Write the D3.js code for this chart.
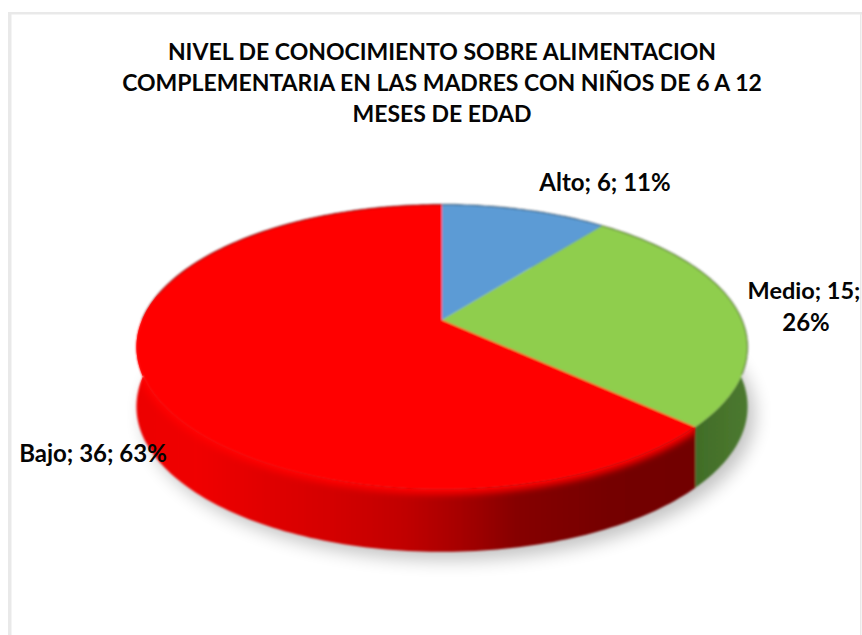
<!DOCTYPE html>
<html>
<head>
<meta charset="utf-8">
<script src="https://cdn.jsdelivr.net/npm/d3@7/dist/d3.min.js"></script>
<style>
html,body{margin:0;padding:0;background:#fff;overflow:hidden}
text{font-family:Lato,"Open Sans",sans-serif;font-weight:700;fill:#050505}
</style>
</head>
<body>
<svg id="chart" width="862" height="635"></svg>
<script>
// Data
const categories = ["Alto", "Medio", "Bajo"];
const counts = [6, 15, 36];
const percents = [11, 26, 63];
const topColors = ["#5b9bd5", "#8fce4e", "#ff0000"];
const titleLines = [
  "NIVEL DE CONOCIMIENTO SOBRE ALIMENTACION",
  "COMPLEMENTARIA EN LAS MADRES CON NIÑOS DE 6 A 12",
  "MESES DE EDAD"
];

const svg = d3.select("#chart");
const defs = svg.append("defs");

// Pie with a perspective tilt: disc coordinates are projected onto the screen.
// Level 0 is the top rim, level 1 the bottom rim.
const persp = {cx: 442, cy: 320, a: 300, b: 137.5, bLow: 140, k: 0.19, depth: 59};
const project = (theta, level) => {
  const u = Math.sin(theta), v = Math.cos(theta), w = 1 + persp.k * v;
  return [
    persp.cx + persp.a * u / w,
    persp.cy + (level ? persp.bLow : persp.b) * -v / w + (level ? persp.depth : 0)
  ];
};
const arcPoints = (a0, a1, level) => {
  const n = Math.max(2, Math.ceil((a1 - a0) / 0.02));
  return d3.range(n + 1).map(i => project(a0 + (a1 - a0) * i / n, level));
};
const line = d3.line().curve(d3.curveLinear);
const slices = d3.pie().sort(null)(counts);

// Filters and gradients
const blur = (id, sd) => defs.append("filter").attr("id", id)
  .attr("filterUnits", "userSpaceOnUse")
  .attr("x", 0).attr("y", 0).attr("width", 862).attr("height", 635)
  .append("feGaussianBlur").attr("stdDeviation", sd);
blur("soft", 0.9);
blur("shadow", 9);
blur("rim", 3.6);

const gradient = (id, stops) => {
  const g = defs.append("linearGradient").attr("id", id)
    .attr("gradientUnits", "userSpaceOnUse")
    .attr("x1", 135).attr("x2", 750).attr("y1", 0).attr("y2", 0);
  stops.forEach(([o, c]) => g.append("stop").attr("offset", o).attr("stop-color", c));
};
gradient("wallRed", [[0, "#ec0000"], [0.1, "#f00000"], [0.2, "#e20000"], [0.32, "#d40000"], [0.44, "#c00000"], [0.53, "#a60000"], [0.62, "#860000"], [0.78, "#740000"], [0.91, "#720000"], [1, "#600000"]]);
gradient("wallGreen", [[0, "#3f6b26"], [0.9, "#3f6b26"], [1, "#4d7a30"]]);

// Left and top edges of the chart area
const frame = svg.append("g").attr("fill", "#e9e9e9");
frame.append("rect").attr("x", 8).attr("y", 12).attr("width", 3.5).attr("height", 623);
frame.append("rect").attr("x", 8).attr("y", 12).attr("width", 854).attr("height", 2.5);
frame.append("rect").attr("x", 860).attr("y", 12).attr("width", 1.5).attr("height", 623);

const fullDisc = level => line(arcPoints(0, 2 * Math.PI, level)) + "Z";

// Drop shadow under the pie
svg.append("path")
  .attr("d", fullDisc(1))
  .attr("transform", "translate(7,8)")
  .attr("fill", "#000").attr("opacity", 0.24).attr("filter", "url(#shadow)");

const pie = svg.append("g").attr("filter", "url(#soft)");

// Side walls, as bands between the top and bottom rims
const wallPath = d => {
  const t = arcPoints(d.startAngle, d.endAngle, 0);
  const b = arcPoints(d.startAngle, d.endAngle, 1).reverse();
  return line(t.concat(b)) + "Z";
};
const wallFill = ["#3a6690", "url(#wallGreen)", "url(#wallRed)"];
pie.selectAll("path.wall").data(slices).join("path").attr("class", "wall")
  .attr("d", wallPath)
  .attr("fill", (d, i) => wallFill[i]);

// Top faces
pie.selectAll("path.face").data(slices).join("path").attr("class", "face")
  .attr("d", d => line([[persp.cx, persp.cy]].concat(arcPoints(d.startAngle, d.endAngle, 0))) + "Z")
  .attr("fill", (d, i) => topColors[i]);

// Thin shaded edge on the far side of the rim
pie.append("path")
  .attr("d", line(arcPoints(-0.5 * Math.PI, 0.62 * Math.PI, 0)))
  .attr("fill", "none").attr("stroke", "#000").attr("stroke-opacity", 0.4).attr("stroke-width", 1.4);

// Soft bright lip along the front rim, kept inside the red wall
defs.append("clipPath").attr("id", "redWall").append("path").attr("d", wallPath(slices[2]));
svg.append("g").attr("clip-path", "url(#redWall)")
  .append("path")
  .attr("d", line(arcPoints(slices[2].startAngle, 1.56 * Math.PI, 0)))
  .attr("fill", "none").attr("stroke", "#ff0000").attr("stroke-width", 9)
  .attr("filter", "url(#rim)");

// Title
svg.append("g").selectAll("text").data(titleLines).join("text")
  .attr("x", 442)
  .attr("y", (d, i) => 60 + i * 31)
  .attr("text-anchor", "middle")
  .attr("font-size", 23)
  .text(d => d);

// Data labels
const label = i => `${categories[i]}; ${counts[i]}; ${percents[i]}%`;
const text = svg.append("g").attr("font-size", 24);
text.append("text").attr("x", 605).attr("y", 191).attr("text-anchor", "middle").text(label(0));
text.append("text").attr("x", 804).attr("y", 299).attr("text-anchor", "middle").attr("font-size", 23.5).text(`${categories[1]}; ${counts[1]};`);
text.append("text").attr("x", 806).attr("y", 331).attr("text-anchor", "middle").text(`${percents[1]}%`);
text.append("text").attr("x", 93).attr("y", 462).attr("text-anchor", "middle").text(label(2));
</script>
</body>
</html>
